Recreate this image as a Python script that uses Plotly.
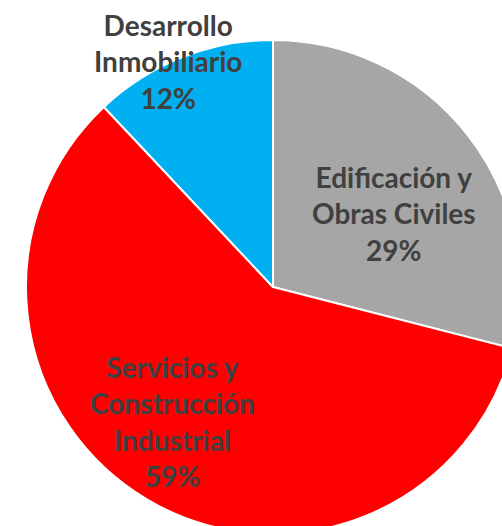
import plotly.graph_objects as go

# slices, clockwise from 12 o'clock
labels = ["Edificación y Obras Civiles", "Servicios y Construcción Industrial", "Desarrollo Inmobiliario"]
label_lines = [
    ["Edificación y", "Obras Civiles"],
    ["Servicios y", "Construcción", "Industrial"],
    ["Desarrollo", "Inmobiliario"],
]
values = [29, 59, 12]
colors = ["#A6A6A6", "#FF0000", "#00B0F0"]

# pie box in pixels, and label centres (px) converted to paper coords
PIE = 494
L, T = 26, 40
W, H = L + PIE, T + PIE
label_px = [(394, 213), (172, 421), (168, 61)]

total = sum(values)

fig = go.Figure()
fig.add_trace(go.Pie(
    labels=labels,
    values=values,
    sort=False,
    direction='clockwise',
    rotation=0,
    textinfo='none',
    hoverinfo='label+percent',
    marker={'colors': colors, 'line': {'color': 'white', 'width': 2}},
    showlegend=False,
    domain={'x': [0, 1], 'y': [0, 1]},
))

for lines, v, (px, py) in zip(label_lines, values, label_px):
    txt = "<br>".join(lines + [f"{v / total * 100:.0f}%"])
    fig.add_annotation(
        text=txt,
        x=(px - L) / PIE, y=(H - py) / PIE,
        xref='paper', yref='paper',
        xanchor='center', yanchor='middle',
        showarrow=False,
        font={'family': 'Lato', 'size': 28, 'color': '#404040', 'weight': 'bold'},
    )

fig.update_layout(
    width=W, height=H,
    margin={'l': L, 't': T, 'r': 0, 'b': 0},
    paper_bgcolor='white',
    plot_bgcolor='white',
)

fig.write_html("out.html",
               config={'displayModeBar': False},
               post_script="document.body.style.margin='0';document.body.style.overflow='hidden';")
